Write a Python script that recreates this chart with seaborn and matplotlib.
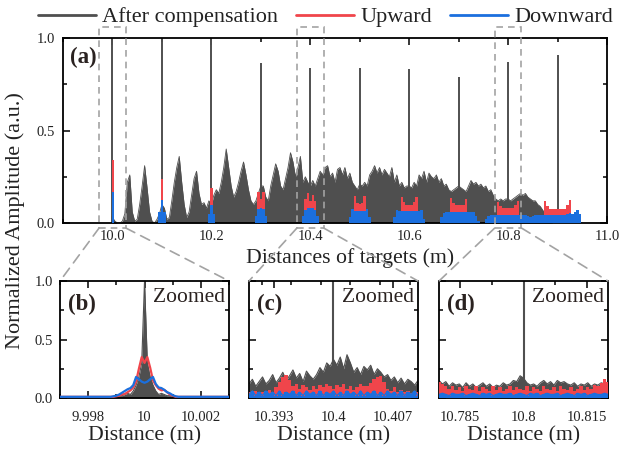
import numpy as np
import matplotlib
matplotlib.use('Agg')
import matplotlib.pyplot as plt
import seaborn as sns
from matplotlib.patches import Rectangle, ConnectionPatch
from matplotlib.transforms import blended_transform_factory
from matplotlib.lines import Line2D
from matplotlib.ticker import MultipleLocator, FixedLocator

GRAY = '#4f4f4f'
RED = '#f0454b'
BLUE = '#1b6fde'
DASH = '#a3a3a3'

# ---- main panel (a): spectra sampled every 5 mm from 10.000 to 10.950 m ----
targets = [10.0, 10.1, 10.2, 10.3, 10.4, 10.5, 10.6, 10.7, 10.8, 10.9]
spike_heights = [1.0, 1.0, 1.0, 0.865, 0.84, 0.84, 0.83, 0.79, 0.87, 0.91]

gray_main = [
    0.03, 0.01, 0.0, 0.0, 0.01, 0.05, 0.22, 0.26, 0.06, 0.01,
    0.02, 0.1, 0.2, 0.31, 0.19, 0.06, 0.01, 0.0, 0.02, 0.05,
    0.1, 0.08, 0.02, 0.03, 0.12, 0.22, 0.3, 0.36, 0.22, 0.1,
    0.03, 0.06, 0.15, 0.24, 0.28, 0.16, 0.1, 0.11, 0.08, 0.12,
    0.1, 0.15, 0.18, 0.16, 0.22, 0.3, 0.4, 0.3, 0.2, 0.14,
    0.17, 0.22, 0.28, 0.33, 0.26, 0.18, 0.12, 0.1, 0.12, 0.16,
    0.2, 0.2, 0.14, 0.12, 0.2, 0.26, 0.32, 0.28, 0.2, 0.18,
    0.24, 0.3, 0.38, 0.33, 0.25, 0.3, 0.36, 0.22, 0.25, 0.22,
    0.2, 0.23, 0.2, 0.24, 0.28, 0.26, 0.3, 0.31, 0.25, 0.27,
    0.22, 0.29, 0.3, 0.26, 0.3, 0.24, 0.27, 0.22, 0.2, 0.18,
    0.21, 0.2, 0.22, 0.2, 0.26, 0.28, 0.31, 0.27, 0.3, 0.26,
    0.29, 0.27, 0.25, 0.3, 0.22, 0.26, 0.2, 0.22, 0.19, 0.2,
    0.2, 0.19, 0.22, 0.2, 0.26, 0.24, 0.28, 0.22, 0.27, 0.25,
    0.24, 0.26, 0.22, 0.24, 0.2, 0.21, 0.18, 0.17, 0.18, 0.19,
    0.2, 0.19, 0.18, 0.17, 0.2, 0.23, 0.21, 0.22, 0.2, 0.21,
    0.19, 0.2, 0.17, 0.18, 0.15, 0.13, 0.12, 0.13, 0.12, 0.13,
    0.13, 0.12, 0.13, 0.14, 0.15, 0.16, 0.15, 0.16, 0.14, 0.13,
    0.12, 0.12, 0.1, 0.09, 0.07, 0.05, 0.03, 0.01, 0.0, 0.0,
    0.0, 0.0, 0.0, 0.0, 0.0, 0.0, 0.0, 0.0, 0.0, 0.0,
    0.0,
]

red_main = [
    0.34, 0, 0, 0, 0, 0, 0, 0, 0, 0,
    0, 0, 0, 0, 0, 0, 0, 0, 0, 0.03,
    0.24, 0.03, 0, 0, 0, 0, 0, 0, 0, 0,
    0, 0, 0, 0, 0, 0, 0, 0, 0, 0,
    0.19, 0, 0, 0, 0, 0, 0, 0, 0, 0,
    0, 0, 0, 0, 0, 0, 0, 0, 0, 0.17,
    0.13, 0.17, 0, 0, 0, 0, 0, 0, 0, 0,
    0, 0, 0, 0, 0, 0, 0, 0, 0.13, 0.16,
    0.12, 0.15, 0.12, 0, 0, 0, 0, 0, 0, 0,
    0, 0, 0, 0, 0, 0, 0, 0, 0.146, 0.11,
    0.105, 0.11, 0.146, 0, 0, 0, 0, 0, 0, 0,
    0, 0, 0, 0, 0, 0, 0, 0.14, 0.115, 0.1,
    0.1, 0.1, 0.115, 0.14, 0, 0, 0, 0, 0, 0,
    0, 0, 0, 0, 0, 0, 0, 0.135, 0.11, 0.098,
    0.098, 0.098, 0.1, 0.13, 0, 0, 0, 0, 0, 0,
    0, 0, 0, 0, 0, 0, 0.115, 0.09, 0.08, 0.08,
    0.08, 0.08, 0.08, 0.1, 0.12, 0, 0, 0, 0, 0,
    0, 0, 0, 0, 0, 0.12, 0.09, 0.075, 0.075, 0.075,
    0.075, 0.075, 0.075, 0.075, 0.1, 0.125, 0, 0, 0, 0,
    0,
]

blue_main = [
    0.17, 0, 0, 0, 0, 0, 0, 0, 0, 0,
    0, 0, 0, 0, 0, 0, 0, 0, 0, 0.06,
    0.124, 0.06, 0, 0, 0, 0, 0, 0, 0, 0,
    0, 0, 0, 0, 0, 0, 0, 0, 0, 0.05,
    0.097, 0.05, 0, 0, 0, 0, 0, 0, 0, 0,
    0, 0, 0, 0, 0, 0, 0, 0, 0.04, 0.075,
    0.08, 0.075, 0.04, 0, 0, 0, 0, 0, 0, 0,
    0, 0, 0, 0, 0, 0, 0, 0.04, 0.07, 0.08,
    0.08, 0.08, 0.07, 0.04, 0, 0, 0, 0, 0, 0,
    0, 0, 0, 0, 0, 0, 0.03, 0.075, 0.065, 0.065,
    0.065, 0.065, 0.065, 0.075, 0.03, 0, 0, 0, 0, 0,
    0, 0, 0, 0, 0.03, 0.07, 0.065, 0.065, 0.065, 0.065,
    0.065, 0.065, 0.065, 0.065, 0.065, 0.07, 0.02, 0, 0, 0,
    0, 0, 0, 0.03, 0.055, 0.06, 0.06, 0.06, 0.06, 0.06,
    0.06, 0.06, 0.06, 0.06, 0.06, 0.06, 0.06, 0.04, 0.01, 0,
    0, 0.02, 0.04, 0.045, 0.045, 0.045, 0.045, 0.045, 0.045, 0.045,
    0.045, 0.045, 0.045, 0.045, 0.045, 0.045, 0.045, 0.045, 0.04, 0.035,
    0.04, 0.045, 0.045, 0.045, 0.045, 0.045, 0.045, 0.045, 0.045, 0.045,
    0.045, 0.045, 0.045, 0.045, 0.05, 0.055, 0.05, 0.06, 0.07, 0.05,
    0,
]

# ---- zoom (b): 9.997 .. 10.003 m, 0.1 mm steps (61 samples) ----
gray_b = [0.005] * 18 + [
    0.01, 0.01, 0.015, 0.02, 0.02, 0.03, 0.04, 0.03, 0.06, 0.11, 0.18, 0.3,
    1.0,
    0.3, 0.18, 0.11, 0.06, 0.03, 0.04, 0.03, 0.02, 0.02, 0.015, 0.01, 0.01,
] + [0.005] * 18
red_b = [0.01] * 20 + [
    0.015, 0.02, 0.03, 0.035, 0.05, 0.065, 0.09, 0.14, 0.25, 0.35,
    0.3,
    0.35, 0.26, 0.15, 0.11, 0.08, 0.065, 0.07, 0.05, 0.03, 0.02,
] + [0.01] * 20
blue_b = [0.01] * 19 + [
    0.015, 0.02, 0.03, 0.045, 0.06, 0.075, 0.085, 0.11, 0.18, 0.16, 0.14,
    0.13,
    0.14, 0.16, 0.18, 0.12, 0.09, 0.085, 0.07, 0.05, 0.04, 0.025, 0.015,
] + [0.01] * 19

# ---- zoom (c): 10.390 .. 10.410 m ----
gray_c = [
    0.12, 0.16, 0.10, 0.14, 0.18, 0.12, 0.15, 0.20, 0.13, 0.17,
    0.22, 0.15, 0.19, 0.24, 0.17, 0.21, 0.14, 0.23, 0.19, 0.16,
    0.20, 0.26, 0.22, 0.30, 0.27, 0.33, 0.28, 0.35, 0.25, 0.37,
    0.30, 0.22, 0.26, 0.20, 0.27, 0.24, 0.28, 0.20, 0.25, 0.22,
    0.18, 0.20, 0.15, 0.18, 0.13, 0.17, 0.12, 0.16, 0.14, 0.11, 0.15,
]
red_c = [
    0.05, 0.04, 0.06, 0.03, 0.05, 0.04, 0.07, 0.05, 0.09, 0.14,
    0.18, 0.20, 0.15, 0.10, 0.12, 0.08, 0.11, 0.09, 0.07, 0.10,
    0.08, 0.11, 0.09, 0.12, 0.10, 0.08, 0.11, 0.09, 0.12, 0.08,
    0.10, 0.07, 0.09, 0.12, 0.10, 0.10, 0.13, 0.16, 0.18, 0.19,
    0.14, 0.08, 0.06, 0.09, 0.05, 0.07, 0.05, 0.06, 0.04, 0.06, 0.05,
]
blue_c = [
    0.03, 0.06, 0.02, 0.05, 0.02, 0.06, 0.03, 0.05, 0.02, 0.06,
    0.02, 0.05, 0.03, 0.06, 0.02, 0.05, 0.02, 0.06, 0.03, 0.05,
    0.02, 0.06, 0.02, 0.05, 0.03, 0.06, 0.02, 0.05, 0.02, 0.06,
    0.03, 0.05, 0.02, 0.06, 0.02, 0.05, 0.03, 0.06, 0.02, 0.05,
    0.02, 0.06, 0.03, 0.05, 0.02, 0.06, 0.02, 0.05, 0.03, 0.06, 0.02,
]

# ---- zoom (d): 10.780 .. 10.820 m ----
gray_d = [
    0.15, 0.12, 0.14, 0.10, 0.13, 0.11, 0.12, 0.09, 0.13, 0.10,
    0.12, 0.09, 0.11, 0.13, 0.10, 0.12, 0.09, 0.11, 0.10, 0.13,
    0.11, 0.12, 0.15, 0.14, 0.19, 0.17, 0.13, 0.11, 0.12, 0.10,
    0.13, 0.15, 0.12, 0.14, 0.11, 0.15, 0.13, 0.14, 0.12, 0.11,
    0.13, 0.10, 0.12, 0.11, 0.13, 0.10, 0.12, 0.11, 0.13, 0.12, 0.14,
]
red_d = [
    0.14, 0.12, 0.10, 0.08, 0.10, 0.07, 0.09, 0.06, 0.10, 0.08,
    0.07, 0.10, 0.06, 0.09, 0.08, 0.06, 0.10, 0.07, 0.09, 0.06,
    0.08, 0.10, 0.07, 0.09, 0.08, 0.07, 0.10, 0.06, 0.09, 0.08,
    0.06, 0.10, 0.08, 0.07, 0.09, 0.06, 0.10, 0.08, 0.07, 0.09,
    0.06, 0.08, 0.10, 0.07, 0.09, 0.08, 0.11, 0.10, 0.13, 0.16, 0.14,
]
blue_d = [
    0.03, 0.04, 0.03, 0.02, 0.04, 0.03, 0.03, 0.04, 0.02, 0.03,
    0.04, 0.03, 0.02, 0.04, 0.03, 0.04, 0.02, 0.03, 0.04, 0.03,
    0.03, 0.04, 0.02, 0.03, 0.04, 0.03, 0.02, 0.04, 0.03, 0.04,
    0.02, 0.03, 0.04, 0.03, 0.03, 0.04, 0.02, 0.03, 0.04, 0.03,
    0.02, 0.04, 0.03, 0.04, 0.02, 0.03, 0.04, 0.03, 0.03, 0.04, 0.03,
]

zooms = [
    # label, centre, xlim, major ticks, tick labels, minor step
    ('(b)', 10.0, (9.997, 10.003), [9.998, 10.0, 10.002], ['9.998', '10', '10.002'], 0.001),
    ('(c)', 10.4, (10.39, 10.41), [10.393, 10.4, 10.407], ['10.393', '10.4', '10.407'], 0.0035),
    ('(d)', 10.8, (10.78, 10.82), [10.785, 10.8, 10.815], ['10.785', '10.8', '10.815'], 0.0075),
]

sns.set_theme(style='ticks')
plt.rcParams['font.family'] = ['Liberation Serif', 'DejaVu Serif']
plt.rcParams['axes.linewidth'] = 1.3
plt.rcParams['axes.edgecolor'] = 'black'
for k in ('xtick', 'ytick'):
    plt.rcParams[k + '.direction'] = 'in'
    plt.rcParams[k + '.color'] = 'black'
    plt.rcParams[k + '.labelcolor'] = '#222222'
    plt.rcParams[k + '.major.width'] = 1.1
    plt.rcParams[k + '.minor.width'] = 1.1
    plt.rcParams[k + '.major.size'] = 5
    plt.rcParams[k + '.minor.size'] = 3
    plt.rcParams[k + '.labelsize'] = 10.5


def style_axes(a):
    a.tick_params(which='both', top=True, right=True)
    a.set_ylim(0, 1.0)
    a.yaxis.set_major_locator(FixedLocator([0, 0.5, 1.0]))
    a.yaxis.set_minor_locator(MultipleLocator(0.25))
    for s in a.spines.values():
        s.set_color('black')


fig = plt.figure(figsize=(6.22, 4.51), dpi=100)
ax = fig.add_axes([0.1013, 0.5055, 0.8746, 0.4102])

x_main = np.linspace(10.0, 10.95, len(gray_main))
ax.fill_between(x_main, 0, gray_main, color=GRAY, lw=0, zorder=1)
sns.lineplot(x=x_main, y=gray_main, ax=ax, color=GRAY, lw=0.6, zorder=1)
ax.vlines(targets, 0, spike_heights, color=GRAY, lw=1.4, zorder=2)
ax.fill_between(x_main, 0, red_main, step='mid', color=RED, lw=0, zorder=3)
ax.fill_between(x_main, 0, blue_main, step='mid', color=BLUE, lw=0, zorder=4)

style_axes(ax)
ax.set_xlim(9.9, 11.0)
ax.xaxis.set_minor_locator(MultipleLocator(0.1))
ax.set_xticks([10.0, 10.2, 10.4, 10.6, 10.8, 11.0])
ax.set_xticklabels(['10.0', '10.2', '10.4', '10.6', '10.8', '11.0'])
ax.set_yticklabels(['0.0', '0.5', '1.0'])
ax.tick_params(axis='x', pad=5)
ax.tick_params(axis='y', pad=6)
ax.set_xlabel('Distances of targets (m)', fontsize=15.7, labelpad=1, color='#222222')
ax.xaxis.set_label_coords(0.527, -0.135)
ax.set_ylabel('')
ax.text(0.012, 0.895, '(a)', transform=ax.transAxes, fontsize=16.5,
        fontweight='bold', va='center', ha='left', color='#2a2220')

fig.text(0.025, 1 - 221 / 451, 'Normalized Amplitude (a.u.)', rotation=90,
         fontsize=16, va='center', ha='center', color='#222222')

# zoomed panels
lefts = [0.0965, 0.4003, 0.7058]
grids = [np.linspace(9.997, 10.003, len(gray_b)),
         np.linspace(10.39, 10.41, len(gray_c)),
         np.linspace(10.78, 10.82, len(gray_d))]
series = [(gray_b, red_b, blue_b), (gray_c, red_c, blue_c), (gray_d, red_d, blue_d)]
trans_main = blended_transform_factory(ax.transData, ax.transAxes)

for i, (lab, centre, xlim, ticks, tlabels, minor) in enumerate(zooms):
    az = fig.add_axes([lefts[i], 0.1175, 0.2717, 0.2594])
    xs = grids[i]
    g, r, b = series[i]
    az.fill_between(xs, 0, g, color=GRAY, lw=0, zorder=1)
    sns.lineplot(x=xs, y=g, ax=az, color=GRAY, lw=0.8, zorder=1)
    if i == 0:
        sns.lineplot(x=xs, y=r, ax=az, color=RED, lw=1.6, zorder=3)
        sns.lineplot(x=xs, y=b, ax=az, color=BLUE, lw=1.6, zorder=4)
    else:
        az.vlines([centre], 0, 1.0, color=GRAY, lw=1.5, zorder=2)
        az.fill_between(xs, 0, r, step='mid', color=RED, lw=0, zorder=3)
        az.fill_between(xs, 0, b, step='mid', color=BLUE, lw=0, zorder=4)
        sns.lineplot(x=xs, y=b, ax=az, color=BLUE, lw=1.0, zorder=4)
    style_axes(az)
    az.set_xlim(*xlim)
    az.set_xticks(ticks)
    az.set_xticklabels(tlabels)
    az.xaxis.set_minor_locator(MultipleLocator(minor))
    az.tick_params(axis='x', pad=9)
    az.tick_params(axis='y', pad=5)
    if i == 0:
        az.set_yticklabels(['0.0', '0.5', '1.0'])
    else:
        az.set_yticklabels([])
    az.set_xlabel('Distance (m)', fontsize=15.7, labelpad=2, color='#222222')
    az.set_ylabel('')
    az.text(0.045, 0.80, lab, transform=az.transAxes, fontsize=16.5,
            fontweight='bold', va='center', ha='left', color='#2a2220')
    az.text(0.975, 0.86, 'Zoomed', transform=az.transAxes, fontsize=15.5,
            va='center', ha='right', color='#2a2220')

    # dashed window on the main panel and the lines leading to the zoom
    x0, x1 = centre - 0.027, centre + 0.027
    ax.add_patch(Rectangle((x0, -0.027), x1 - x0, 1.086, transform=trans_main,
                           fill=False, ec=DASH, lw=1.2, ls=(0, (4, 3)),
                           clip_on=False, zorder=6))
    for xa, xb in ((x0, 0.0), (x1, 1.0)):
        con = ConnectionPatch(xyA=(xa, -0.027), coordsA=trans_main,
                              xyB=(xb, 1.0), coordsB=az.transAxes,
                              color=DASH, lw=1.2, ls=(0, (6, 4)))
        fig.add_artist(con)

handles = [Line2D([], [], color=GRAY, lw=2),
           Line2D([], [], color=RED, lw=2),
           Line2D([], [], color=BLUE, lw=2)]
fig.legend(handles, ['After compensation', 'Upward', 'Downward'],
           loc='center left', bbox_to_anchor=(38 / 622, 0.962), ncol=3, frameon=False,
           fontsize=16, handlelength=2.6, handletextpad=0.3, columnspacing=0.8,
           borderaxespad=0, borderpad=0, labelcolor='#222222')

fig.savefig('out.png', dpi=100)
